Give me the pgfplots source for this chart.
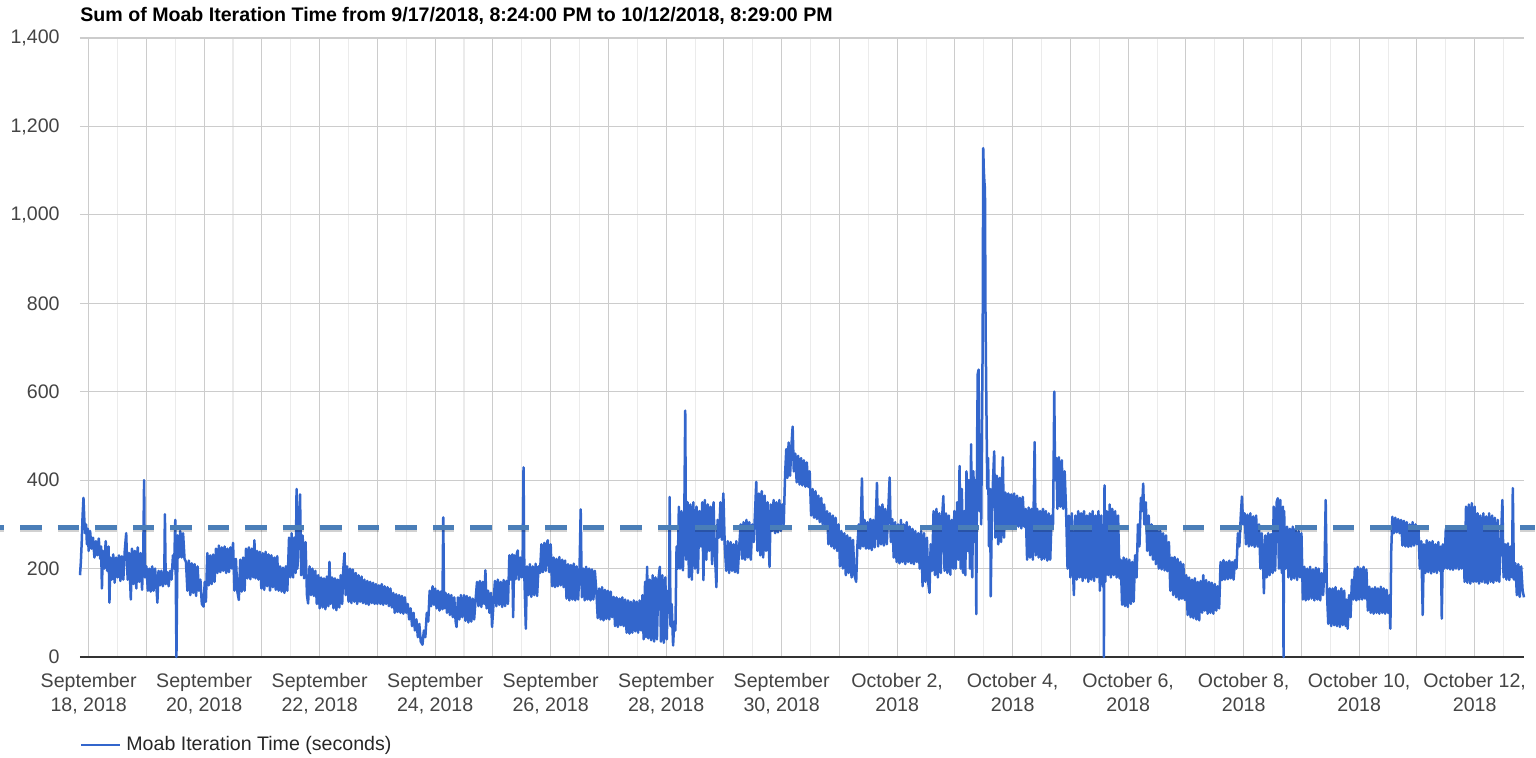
\documentclass[border=0pt]{standalone}
\usepackage{fontspec}
\setmainfont{Liberation Sans}
\usepackage{pgfplots}
\pgfplotsset{compat=1.18}
\definecolor{mainblue}{HTML}{3366CC}
\definecolor{dashblue}{RGB}{74,126,184}
\definecolor{gridmaj}{HTML}{CCCCCC}
\definecolor{gridmin}{HTML}{EBEBEB}
\definecolor{labc}{HTML}{444444}
\definecolor{axisc}{HTML}{333333}
\newcommand{\lf}{\fontsize{9.8}{12}\selectfont}
\begin{document}
\begin{tikzpicture}
\useasboundingbox (-40pt,-50pt) rectangle (728pt,328.5pt);
\begin{axis}[
  at={(0pt,0pt)}, anchor=south west,
  scale only axis, width=722pt, height=309.5pt,
  xmin=-0.15, xmax=24.854, ymin=0, ymax=1400,
  clip=false,
  axis line style={draw=none},
  xtick={0,1,...,24},
  minor xtick={0.5,1.5,...,24.5},
  xticklabels={{September\\18, 2018},{},{September\\20, 2018},{},{September\\22, 2018},{},{September\\24, 2018},{},{September\\26, 2018},{},{September\\28, 2018},{},{September\\30, 2018},{},{October 2,\\2018},{},{October 4,\\2018},{},{October 6,\\2018},{},{October 8,\\2018},{},{October 10,\\2018},{},{October 12,\\2018}},
  ytick={200,400,...,1400},
  extra y ticks={0},
  extra y tick style={major grid style={color=axisc, line width=0.8pt}},
  xmajorgrids, xminorgrids, ymajorgrids,
  major grid style={color=gridmaj, line width=0.55pt},
  minor grid style={color=gridmin, line width=0.55pt},
  major tick length=0pt, minor tick length=0pt,
  tick style={draw=none},
  scaled y ticks=false,
  /pgf/number format/assume math mode=true,
  /pgf/number format/1000 sep={,},
  yticklabel style={anchor=east, inner sep=0pt, xshift=-10pt, font=\lf, text=labc},
  xticklabel style={anchor=north, align=center, inner sep=0pt, yshift=-8pt, font=\lf, text=labc},
  title={Sum of Moab Iteration Time from 9/17/2018, 8:24:00 PM to 10/12/2018, 8:29:00 PM},
  title style={at={(0,1)}, anchor=base west, yshift=2.3pt, inner sep=0pt, font=\bfseries\lf, text=black},
  legend style={at={(0,-0.1422)}, anchor=west, draw=none, fill=none, inner sep=0pt, outer sep=0pt,
    font=\lf, text=black!85, nodes={inner sep=0pt}, /tikz/every odd column/.append style={column sep=2.6pt}},
  legend cell align=left,
  legend image code/.code={\draw[#1,line width=1.1pt] (0pt,0pt) -- (19.5pt,0pt);},
]
\addplot[color=mainblue, line width=1.25pt, line join=round] coordinates {
(-0.150,185) (-0.135,215) (-0.120,260) (-0.105,320) (-0.090,360) (-0.075,310) (-0.060,280) (-0.045,300) (-0.030,255) (-0.015,290) (0.000,240)
(0.025,285) (0.050,245) (0.075,270) (0.100,225) (0.125,262) (0.150,230) (0.175,268) (0.200,222) (0.215,250) (0.230,155) (0.245,240) (0.270,200) (0.295,262) (0.320,195) (0.345,250) (0.360,123) (0.375,225) (0.400,175) (0.425,232) (0.450,168) (0.475,225) (0.500,180)
(0.525,230) (0.550,172) (0.575,228) (0.600,175) (0.625,240) (0.650,280) (0.675,175) (0.700,235) (0.730,130) (0.750,245) (0.775,165) (0.800,240) (0.825,155) (0.850,248) (0.875,170) (0.900,235) (0.925,152) (0.945,230) (0.960,400) (0.975,180) (1.000,205)
(1.025,150) (1.050,200) (1.075,148) (1.100,205) (1.125,150) (1.150,200) (1.175,155) (1.190,123) (1.210,195) (1.235,162) (1.260,195) (1.285,160) (1.310,190) (1.320,323) (1.335,165) (1.360,192) (1.385,160) (1.410,195) (1.435,175) (1.460,230) (1.480,200) (1.500,310) (1.520,0) (1.540,275)
(1.560,225) (1.585,285) (1.610,225) (1.635,280) (1.660,222) (1.685,215) (1.710,150) (1.735,218) (1.760,140) (1.785,212) (1.810,145) (1.835,210) (1.860,138) (1.885,205) (1.910,150) (1.935,175) (1.960,120) (1.990,114) (2.010,170) (2.030,125)
(2.055,235) (2.080,162) (2.105,230) (2.130,165) (2.155,232) (2.180,170) (2.205,245) (2.230,190) (2.255,252) (2.280,192) (2.305,248) (2.330,195) (2.355,250) (2.380,190) (2.405,245) (2.430,192) (2.455,248) (2.480,200) (2.500,258)
(2.525,150) (2.550,222) (2.575,148) (2.600,129) (2.625,220) (2.650,148) (2.675,225) (2.700,150) (2.725,245) (2.750,178) (2.775,248) (2.800,176) (2.825,245) (2.850,180) (2.870,264) (2.890,178) (2.915,240) (2.940,175) (2.965,238) (2.990,155)
(3.015,235) (3.040,152) (3.065,238) (3.090,160) (3.115,232) (3.140,150) (3.165,230) (3.190,158) (3.215,225) (3.240,152) (3.265,228) (3.290,150) (3.315,205) (3.340,148) (3.365,202) (3.390,145) (3.415,205) (3.440,150) (3.470,270) (3.490,180)
(3.515,280) (3.540,180) (3.565,270) (3.585,190) (3.600,380) (3.615,200) (3.635,285) (3.660,368) (3.680,185) (3.705,275) (3.730,178) (3.755,260) (3.780,140) (3.800,121) (3.825,205) (3.850,140) (3.875,200) (3.900,138) (3.925,195) (3.950,120) (3.975,185) (4.000,110)
(4.025,180) (4.050,112) (4.075,178) (4.100,108) (4.125,182) (4.150,115) (4.170,215) (4.190,120) (4.215,180) (4.240,110) (4.265,178) (4.290,106) (4.315,175) (4.340,112) (4.365,185) (4.390,120) (4.410,200) (4.430,235) (4.450,140) (4.475,205) (4.500,125)
(4.525,200) (4.550,122) (4.575,198) (4.600,125) (4.625,190) (4.650,120) (4.675,185) (4.700,125) (4.725,182) (4.750,122) (4.775,175) (4.800,120) (4.825,172) (4.850,118) (4.875,170) (4.900,122) (4.925,168) (4.950,120) (4.975,165) (5.000,120)
(5.025,162) (5.050,120) (5.075,165) (5.100,118) (5.125,160) (5.150,120) (5.175,158) (5.200,115) (5.225,155) (5.250,112) (5.275,145) (5.300,100) (5.325,142) (5.350,102) (5.375,140) (5.400,100) (5.425,138) (5.450,98) (5.475,135) (5.500,100)
(5.525,120) (5.550,85) (5.575,110) (5.600,70) (5.625,100) (5.650,60) (5.675,85) (5.700,45) (5.725,75) (5.750,35) (5.780,28) (5.805,60) (5.830,45) (5.855,100) (5.880,80) (5.905,150) (5.930,115) (5.955,160) (5.980,118) (6.000,155)
(6.025,110) (6.050,150) (6.075,105) (6.100,148) (6.125,108) (6.140,316) (6.155,110) (6.180,145) (6.205,100) (6.230,142) (6.255,95) (6.280,140) (6.305,90) (6.330,135) (6.355,80) (6.370,68) (6.395,135) (6.420,85) (6.445,140) (6.470,90) (6.500,140)
(6.525,82) (6.550,138) (6.575,78) (6.600,135) (6.625,80) (6.650,132) (6.675,85) (6.700,130) (6.725,170) (6.750,115) (6.775,172) (6.800,113) (6.825,170) (6.850,120) (6.870,196) (6.890,110) (6.915,150) (6.940,100) (6.965,145) (6.985,68)
(7.010,120) (7.035,172) (7.060,115) (7.085,175) (7.110,118) (7.135,170) (7.160,113) (7.185,174) (7.210,115) (7.235,172) (7.260,120) (7.285,230) (7.310,175) (7.335,232) (7.350,90) (7.370,230) (7.395,176) (7.415,234) (7.430,241) (7.450,175) (7.475,225) (7.500,180)
(7.515,220) (7.530,429) (7.545,180) (7.570,64) (7.590,205) (7.615,140) (7.640,210) (7.665,136) (7.690,205) (7.715,140) (7.740,211) (7.765,138) (7.790,205) (7.815,190) (7.840,255) (7.865,192) (7.890,258) (7.915,195) (7.940,260) (7.950,264) (7.975,192) (8.000,255)
(8.025,160) (8.050,225) (8.075,158) (8.100,222) (8.125,160) (8.150,226) (8.175,162) (8.200,220) (8.225,158) (8.250,218) (8.275,132) (8.300,210) (8.325,128) (8.350,208) (8.375,130) (8.400,211) (8.425,128) (8.450,205) (8.475,130) (8.500,200) (8.520,334) (8.540,135)
(8.565,200) (8.590,128) (8.615,204) (8.640,130) (8.665,200) (8.690,128) (8.715,198) (8.740,130) (8.765,195) (8.790,150) (8.815,88) (8.840,155) (8.865,85) (8.890,158) (8.915,83) (8.940,152) (8.965,86) (8.990,150) (9.015,85) (9.040,148) (9.065,90)
(9.090,136) (9.115,70) (9.140,135) (9.165,68) (9.190,132) (9.215,72) (9.240,135) (9.265,70) (9.290,130) (9.315,55) (9.340,128) (9.365,53) (9.390,125) (9.415,55) (9.440,128) (9.465,58) (9.490,125) (9.515,55) (9.540,128) (9.565,60) (9.590,140)
(9.610,40) (9.635,170) (9.650,45) (9.670,204) (9.690,42) (9.715,175) (9.740,38) (9.765,185) (9.790,35) (9.815,180) (9.840,40) (9.865,175) (9.890,204) (9.910,35) (9.935,185) (9.960,32) (9.985,180) (10.010,40)
(10.030,150) (10.050,100) (10.060,362) (10.075,70) (10.095,120) (10.120,26) (10.140,80) (10.160,60) (10.180,250) (10.200,200) (10.220,340) (10.240,200) (10.265,330) (10.290,196) (10.315,335) (10.330,557) (10.345,220) (10.370,350) (10.395,180) (10.420,345) (10.445,175) (10.470,350) (10.500,200)
(10.525,340) (10.550,190) (10.575,330) (10.600,250) (10.625,350) (10.645,174) (10.670,355) (10.695,220) (10.720,345) (10.745,240) (10.770,340) (10.795,210) (10.820,350) (10.845,230) (10.870,158) (10.890,310) (10.915,270) (10.940,350) (10.965,265) (10.990,370)
(11.015,250) (11.040,195) (11.065,262) (11.090,190) (11.115,260) (11.140,195) (11.165,255) (11.190,192) (11.215,262) (11.240,190) (11.265,250) (11.290,300) (11.315,222) (11.340,305) (11.365,220) (11.390,310) (11.415,225) (11.440,305) (11.465,220) (11.490,300)
(11.515,260) (11.540,330) (11.560,396) (11.580,240) (11.605,370) (11.630,230) (11.655,375) (11.680,225) (11.705,365) (11.730,240) (11.755,350) (11.775,260) (11.790,204) (11.810,345) (11.835,285) (11.860,355) (11.885,280) (11.910,350) (11.935,282) (11.960,355) (11.985,285)
(12.010,345) (12.035,300) (12.060,415) (12.080,470) (12.100,405) (12.120,485) (12.145,410) (12.170,480) (12.190,521) (12.210,420) (12.235,460) (12.260,395) (12.285,455) (12.310,390) (12.335,450) (12.360,388) (12.385,445) (12.410,385) (12.435,440) (12.460,385) (12.485,420)
(12.510,320) (12.535,380) (12.560,315) (12.585,375) (12.610,312) (12.635,365) (12.660,305) (12.685,360) (12.710,300) (12.735,345) (12.760,290) (12.785,330) (12.810,255) (12.835,325) (12.860,250) (12.885,320) (12.910,245) (12.935,315) (12.960,240) (12.985,300)
(13.010,205) (13.035,285) (13.060,200) (13.085,280) (13.110,185) (13.135,275) (13.160,190) (13.185,270) (13.210,180) (13.235,265) (13.260,185) (13.290,170) (13.310,250) (13.335,300) (13.360,245) (13.390,404) (13.410,250) (13.435,310) (13.460,245) (13.485,305)
(13.510,245) (13.535,312) (13.560,242) (13.585,310) (13.610,248) (13.630,305) (13.650,394) (13.670,250) (13.695,340) (13.720,255) (13.745,345) (13.770,252) (13.795,335) (13.820,255) (13.845,330) (13.870,406) (13.890,260) (13.915,312) (13.940,225) (13.965,305) (13.990,215)
(14.015,300) (14.040,212) (14.065,310) (14.090,215) (14.115,300) (14.140,210) (14.165,305) (14.190,215) (14.215,295) (14.240,212) (14.265,290) (14.290,210) (14.315,285) (14.340,215) (14.365,280) (14.390,200) (14.415,285) (14.440,160) (14.465,280) (14.490,170)
(14.515,270) (14.540,165) (14.560,145) (14.580,255) (14.605,195) (14.630,330) (14.655,185) (14.680,335) (14.705,180) (14.730,325) (14.755,190) (14.780,320) (14.800,364) (14.820,195) (14.845,325) (14.870,190) (14.895,320) (14.920,186) (14.945,310) (14.970,200)
(14.990,330) (15.015,200) (15.040,350) (15.060,220) (15.080,432) (15.100,200) (15.120,380) (15.140,190) (15.160,330) (15.180,185) (15.200,420) (15.220,240) (15.240,400) (15.260,200) (15.280,481) (15.300,180) (15.320,420) (15.340,260) (15.355,400) (15.370,97) (15.385,500) (15.395,640) (15.410,650) (15.425,330) (15.440,420) (15.455,300) (15.470,560) (15.480,700) (15.490,1151) (15.500,1100) (15.510,1075) (15.520,1058) (15.530,760) (15.545,566) (15.560,380) (15.575,450) (15.590,250)
(15.610,380) (15.620,137) (15.640,330) (15.660,400) (15.680,465) (15.700,270) (15.725,410) (15.750,255) (15.775,405) (15.800,260) (15.815,400) (15.830,452) (15.850,270) (15.875,372) (15.900,295) (15.925,370) (15.950,292) (15.975,368)
(16.000,295) (16.025,370) (16.050,292) (16.075,365) (16.100,295) (16.125,360) (16.150,291) (16.175,362) (16.200,295) (16.225,335) (16.250,220) (16.275,338) (16.300,225) (16.325,335) (16.350,220) (16.380,486) (16.400,230) (16.425,335) (16.450,225) (16.475,330) (16.500,220)
(16.525,335) (16.550,222) (16.575,330) (16.600,218) (16.625,325) (16.650,220) (16.675,320) (16.700,300) (16.720,600) (16.735,400) (16.755,450) (16.775,335) (16.800,452) (16.825,340) (16.850,445) (16.875,335) (16.900,420) (16.925,330) (16.950,200) (16.975,320)
(17.000,180) (17.025,325) (17.050,175) (17.060,140) (17.085,320) (17.110,175) (17.135,330) (17.160,180) (17.185,325) (17.210,172) (17.235,330) (17.260,178) (17.285,320) (17.310,170) (17.335,325) (17.360,175) (17.385,330) (17.410,172) (17.435,320) (17.460,180) (17.485,330)
(17.510,150) (17.535,320) (17.560,160) (17.575,250) (17.580,0) (17.590,388) (17.605,170) (17.630,330) (17.655,185) (17.680,345) (17.700,180) (17.725,335) (17.750,185) (17.775,330) (17.800,180) (17.825,320) (17.850,178) (17.870,220) (17.895,118) (17.920,225) (17.945,115) (17.970,222) (17.995,113)
(18.020,220) (18.045,120) (18.070,215) (18.095,125) (18.120,230) (18.145,180) (18.170,300) (18.195,250) (18.220,360) (18.240,330) (18.260,392) (18.280,300) (18.305,350) (18.330,240) (18.355,320) (18.380,230) (18.405,300) (18.430,220) (18.455,295) (18.480,210)
(18.505,290) (18.530,200) (18.555,285) (18.580,198) (18.605,280) (18.630,196) (18.655,275) (18.680,194) (18.705,260) (18.730,150) (18.755,225) (18.780,140) (18.805,226) (18.830,135) (18.855,222) (18.880,130) (18.905,215) (18.930,132) (18.955,210) (18.980,129)
(19.005,185) (19.030,95) (19.055,180) (19.080,90) (19.105,175) (19.130,88) (19.155,178) (19.180,85) (19.205,170) (19.230,83) (19.255,172) (19.280,100) (19.300,185) (19.325,105) (19.350,174) (19.375,98) (19.400,170) (19.425,100) (19.450,168) (19.475,98) (19.500,165)
(19.525,105) (19.550,160) (19.575,110) (19.600,215) (19.625,174) (19.650,219) (19.675,175) (19.700,215) (19.725,176) (19.750,218) (19.775,178) (19.800,215) (19.825,175) (19.850,219) (19.875,200) (19.900,280) (19.925,250) (19.950,320) (19.970,363) (19.990,300)
(20.015,325) (20.040,255) (20.065,322) (20.090,250) (20.115,325) (20.140,252) (20.165,318) (20.190,249) (20.215,320) (20.240,250) (20.265,300) (20.290,200) (20.315,280) (20.340,190) (20.350,144) (20.375,275) (20.400,180) (20.425,280) (20.450,185) (20.475,278) (20.500,190)
(20.520,340) (20.545,195) (20.570,350) (20.590,359) (20.610,200) (20.635,355) (20.660,190) (20.680,340) (20.690,0) (20.700,330) (20.725,200) (20.750,295) (20.775,180) (20.800,290) (20.825,175) (20.850,295) (20.875,178) (20.900,290) (20.925,174) (20.950,285) (20.975,180) (21.000,280)
(21.025,130) (21.050,204) (21.075,128) (21.100,200) (21.125,130) (21.150,204) (21.175,132) (21.200,198) (21.225,128) (21.250,202) (21.275,130) (21.300,200) (21.325,128) (21.350,190) (21.375,140) (21.400,200) (21.420,355) (21.440,150) (21.465,75) (21.490,155)
(21.515,70) (21.540,155) (21.565,72) (21.590,158) (21.615,70) (21.640,150) (21.665,68) (21.690,155) (21.715,72) (21.740,150) (21.765,70) (21.780,130) (21.800,64) (21.825,140) (21.850,90) (21.875,175) (21.900,130) (21.925,200) (21.950,128) (21.975,204) (22.000,130)
(22.025,200) (22.050,130) (22.075,204) (22.100,132) (22.125,198) (22.150,105) (22.175,159) (22.200,100) (22.225,155) (22.250,98) (22.275,158) (22.300,100) (22.325,155) (22.350,98) (22.375,159) (22.400,100) (22.425,155) (22.450,98) (22.475,152) (22.500,100) (22.525,140) (22.540,64)
(22.555,240) (22.575,317) (22.600,280) (22.625,315) (22.650,282) (22.675,312) (22.700,280) (22.725,310) (22.750,252) (22.775,308) (22.800,250) (22.825,305) (22.850,249) (22.875,300) (22.900,250) (22.925,305) (22.950,252) (22.975,300) (23.000,255) (23.025,295)
(23.050,200) (23.075,262) (23.100,95) (23.120,255) (23.145,190) (23.170,264) (23.195,192) (23.220,260) (23.245,189) (23.270,262) (23.295,192) (23.320,255) (23.345,190) (23.370,260) (23.395,195) (23.415,250) (23.430,87) (23.450,255) (23.475,200)
(23.500,290) (23.525,200) (23.550,295) (23.575,198) (23.600,290) (23.625,197) (23.650,295) (23.675,200) (23.700,290) (23.725,198) (23.750,292) (23.775,200) (23.800,295) (23.825,170) (23.850,340) (23.875,168) (23.900,345) (23.925,166) (23.950,348) (23.975,170)
(24.000,340) (24.025,170) (24.050,325) (24.075,166) (24.100,320) (24.125,170) (24.150,325) (24.175,168) (24.200,318) (24.225,166) (24.250,325) (24.275,170) (24.300,320) (24.325,168) (24.350,315) (24.375,172) (24.400,310) (24.425,170) (24.450,250) (24.480,355) (24.500,180) (24.525,255) (24.550,175) (24.575,257) (24.600,174) (24.625,250) (24.645,180) (24.660,382) (24.680,175) (24.705,212) (24.730,140) (24.755,210) (24.780,136) (24.805,205) (24.830,150) (24.854,135)
};
\addlegendentry{Moab Iteration Time (seconds)}
\addplot[forget plot, draw=black, opacity=0.18, line width=2.8pt, dash pattern=on 10.75pt off 8pt, dash phase=8.25pt, yshift=-0.9pt] coordinates {(-1.546,294) (25.05,294)};
\addplot[forget plot, draw=dashblue, line width=2.5pt, dash pattern=on 10.75pt off 8pt, dash phase=8.25pt] coordinates {(-1.546,294) (25.05,294)};
\end{axis}
\end{tikzpicture}
\end{document}
